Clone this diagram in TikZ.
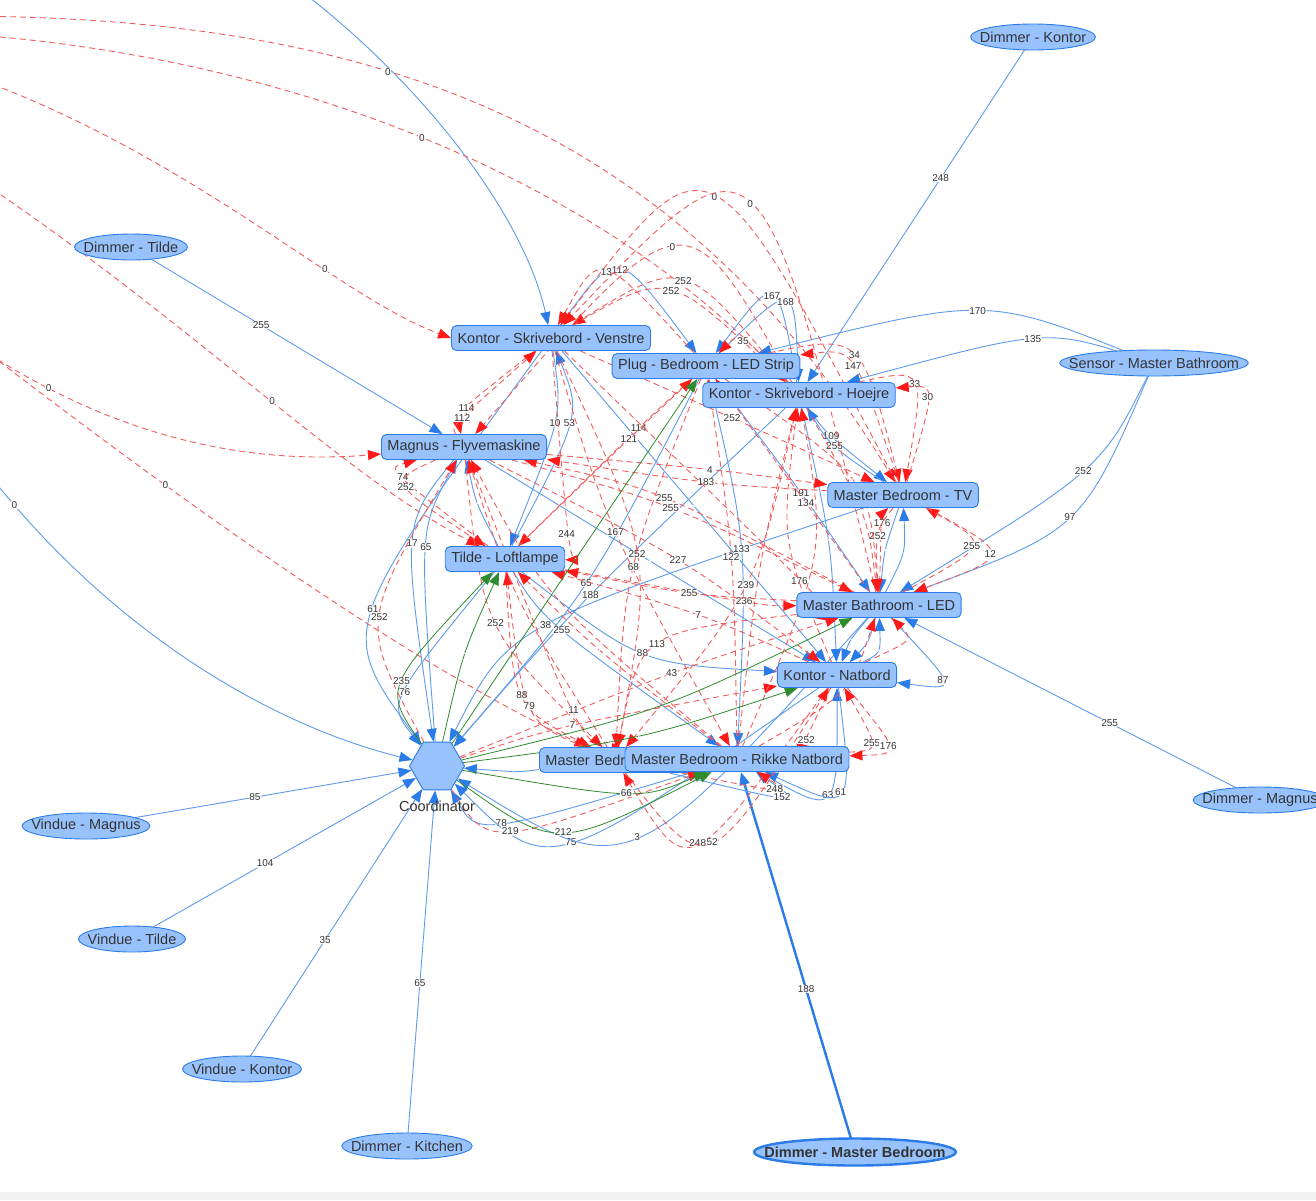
\documentclass[tikz,border=0pt]{standalone}
\usepackage{fontspec}
\setmainfont{Liberation Sans}
\usetikzlibrary{arrows.meta,calc,shapes.geometric}
\definecolor{ink}{HTML}{343434}
\definecolor{nodefill}{HTML}{97C2FC}
\definecolor{nodeline}{HTML}{2B7CE9}
\definecolor{linkblue}{HTML}{5E9BEA}
\definecolor{linkred}{HTML}{F25C5C}
\definecolor{tipred}{HTML}{FF1A1A}
\definecolor{linkgreen}{HTML}{2E8B2E}
\pgfdeclarelayer{links}
\pgfdeclarelayer{shells}
\pgfsetlayers{links,shells,main}
\tikzset{
  device/.style={draw=nodeline,fill=nodefill,rounded corners=5pt,line width=0.9pt,inner xsep=6pt,minimum height=25pt,text=ink,font=\fontsize{14.5}{16}\selectfont},
  sensor/.style={inner sep=0pt,text=ink,font=\fontsize{14.5}{16}\selectfont},
  shell/.style={draw=nodeline,fill=nodefill,line width=0.9pt},
  hub/.style={draw=nodeline,fill=nodefill,regular polygon,regular polygon sides=6,minimum size=55pt,inner sep=0pt,line width=0.9pt},
  lbl/.style={font=\fontsize{10}{11}\selectfont,text=ink,fill=white,fill opacity=0.85,text opacity=1,inner sep=0.6pt},
  blink/.style={-{Triangle[length=13pt,width=10pt,color=nodeline]},draw=linkblue,line width=0.9pt},
  rlink/.style={-{Triangle[length=13pt,width=10pt,color=tipred]},draw=linkred,line width=0.9pt,dash pattern=on 6pt off 4pt},
  glink/.style={-{Triangle[length=13pt,width=10pt,color=linkgreen]},draw=linkgreen,line width=0.8pt}
}

\begin{document}
\begin{tikzpicture}[x=1pt,y=-1pt]
  \useasboundingbox (0,0) rectangle (1316,1200);
  \clip (0,0) rectangle (1316,1200);

  % devices in the mesh
  \node[device,anchor=west,text width=140pt,align=left] (mb) at (539,760) {Master Bedroom};
  \node[device] (kv) at (551,338) {Kontor - Skrivebord - Venstre};
  \node[device] (pl) at (706,366) {Plug - Bedroom - LED Strip};
  \node[device] (kh) at (799,395) {Kontor - Skrivebord - Hoejre};
  \node[device] (mf) at (464,447) {Magnus - Flyvemaskine};
  \node[device] (tv) at (903,495) {Master Bedroom - TV};
  \node[device] (tl) at (505,559) {Tilde - Loftlampe};
  \node[device] (ml) at (879,605) {Master Bathroom - LED};
  \node[device] (kn) at (837,675) {Kontor - Natbord};
  \node[device] (rn) at (737,759) {Master Bedroom - Rikke Natbord};
  \node[hub,label={[text=ink,font=\fontsize{14.5}{16}\selectfont,inner sep=1pt,label distance=10pt]below:Coordinator}] (co) at (437,766) {};

  % end devices
  \node[sensor] (dk) at (1033,37) {Dimmer - Kontor};
  \node[sensor] (dt) at (131,247) {Dimmer - Tilde};
  \node[sensor] (sm) at (1154,363) {Sensor - Master Bathroom};
  \node[sensor] (dm) at (1260,800) {Dimmer - Magnus};
  \node[sensor] (vm) at (86,826) {Vindue - Magnus};
  \node[sensor] (vt) at (132,939) {Vindue - Tilde};
  \node[sensor] (vk) at (242,1069) {Vindue - Kontor};
  \node[sensor] (dki) at (407,1146) {Dimmer - Kitchen};
  \node[sensor,font=\fontsize{14.5}{16}\selectfont\bfseries] (dmb) at (855,1152) {Dimmer - Master Bedroom};

  \coordinate (topin) at (300,-10);
  \coordinate (leftin) at (-70,390);
  \coordinate (farA) at (-200,20);
  \coordinate (farB) at (-200,30);
  \coordinate (farC) at (-150,40);
  \coordinate (farD) at (-100,130);
  \coordinate (farE) at (-60,320);
  \coordinate (farF) at (-80,300);

  \begin{pgfonlayer}{shells}
    \foreach \dev in {dk,dt,sm,dm,vm,vt,vk,dki}
      \path[shell] let \p1=($(\dev.east)-(\dev.west)$) in (\dev.center) ellipse [x radius=0.5*\x1+9pt, y radius=13pt];
    \path[shell,line width=2.4pt] let \p1=($(dmb.east)-(dmb.west)$) in (dmb.center) ellipse [x radius=0.5*\x1+10pt, y radius=13.5pt];
  \end{pgfonlayer}

  \begin{pgfonlayer}{links}
    \fill[white] (0,0) rectangle (1316,1200);
    \fill[black!5] (0,1192) rectangle (1316,1200);

    % routes from the end devices
    \draw[blink] (dk) -- (kh) node[lbl,pos=0.4]{248};
    \draw[blink] (dt) -- (mf) node[lbl,pos=0.4]{255};
    \draw[blink] (dm) -- (ml) node[lbl,pos=0.4]{255};
    \draw[blink] (vm) -- (co) node[lbl,pos=0.45]{85};
    \draw[blink] (vt) -- (co) node[lbl,pos=0.45]{104};
    \draw[blink] (vk) -- (co) node[lbl,pos=0.45]{35};
    \draw[blink] (dki) -- (co) node[lbl,pos=0.45]{65};
    \draw[blink,draw=nodeline,line width=2.4pt] (dmb) -- (rn) node[lbl,pos=0.42]{188};
    \draw[blink] (topin) .. controls (430,90) and (525,220) .. (kv);
    \draw[blink] (leftin) .. controls (60,600) and (250,720) .. (co) node[lbl,pos=0.2]{0};

    % neighbours far off to the left
    \draw[rlink] (farA) .. controls (300,-5) and (650,80) .. (tv) node[lbl,pos=0.45]{0};
    \draw[rlink] (farB) .. controls (250,20) and (600,180) .. (kh) node[lbl,pos=0.53]{0};
    \draw[rlink] (farC) .. controls (150,110) and (320,290) .. (kv.west) node[lbl,pos=0.71]{0};
    \draw[rlink] (farD) .. controls (150,280) and (330,470) .. (tl) node[lbl,pos=0.58]{0};
    \draw[rlink] (farE) .. controls (100,440) and (250,465) .. (mf) node[lbl,pos=0.23]{0};
    \draw[rlink] (farF) .. controls (150,480) and (400,660) .. (mb) node[lbl,pos=0.35]{0};

    % mesh links: from/to/value/label point
    \foreach \s/\t/\l/\mx/\my in {
      sm/pl/170/973/313, sm/kh/135/1029/341, sm/ml/252/1081/472, sm/ml/97/1066/518,
      kv/pl/112/620/273, kh/pl/167/771/299, pl/kh/168/784/305,
      kh/tv/109/832/436, tv/kh/255/836/446, kv/tl/10/554/423, tl/kv/53/568/423,
      pl/ml/191/801/493, co/mf/65/427/549, mf/co/17/414/545, kv/co/61/376/610,
      tl/co/76/408/693, pl/co/65/585/584, kh/co/188/590/596, tv/co/38/549/627,
      pl/rn/133/741/549, tl/rn/255/563/630, tl/kn/88/648/652, ml/kn/87/934/678,
      mb/rn/152/773/794, rn/kn/63/825/792, kn/rn/61/837/789, rn/co/78/505/818,
      kn/co/75/571/838, ml/co/3/636/834, mb/co/{}/520/770, kv/kn/{}/694/506,
      mf/kn/{}/650/561, tv/ml/{}/886/550, ml/tv/{}/902/552, kh/kn/{}/828/540,
      ml/kn/{}/852/640, ml/kn/{}/866/642, kn/ml/{}/875/650, tl/mf/{}/478/503}
      \draw[blink] (\s) .. controls ($1.3333*(\mx,\my)-0.1667*(\s)-0.1667*(\t)$) .. (\t) node[lbl,pos=0.5]{\l};

    \foreach \s/\t/\l/\mx/\my in {
      kv/mf/114/469/408, mf/kv/112/465/418, pl/kv/13/607/275, kh/kv/252/682/284,
      kv/kh/252/670/294, tv/kv/0/714/200, ml/kv/0/749/207, kh/mf/0/672/250,
      kh/pl/35/743/344, pl/tv/34/847/358, tv/pl/147/842/369, kh/tv/33/907/387,
      tv/kh/30/915/400, kv/tv/252/732/418, pl/tl/114/639/428, tl/pl/121/629/439,
      tl/mf/74/411/477, mf/tl/252/412/487, mf/tv/4/709/470, tv/mf/183/705/481,
      ml/mf/255/660/498, mf/ml/255/668/508, ml/pl/134/806/503, kv/tl/244/559/532,
      kv/rn/167/616/532, kv/mb/252/636/554, pl/mb/68/634/567, mf/kn/227/677/560,
      rn/pl/122/731/557, ml/tv/176/884/523, tv/ml/252/879/536, ml/tv/255/966/546,
      tv/ml/12/983/554, kv/ml/176/806/578, kh/mb/239/745/585, tl/ml/236/747/600,
      ml/tl/255/692/592, kn/tl/7/696/615, co/mf/252/382/619, mf/mb/252/497/623,
      ml/mb/113/667/645, co/ml/43/674/673, tl/mb/88/525/695, mb/tl/79/533/706,
      mf/rn/11/587/710, co/kn/7/577/725, kn/rn/252/798/740, rn/kn/255/857/742,
      kn/rn/176/873/745, mb/rn/248/764/786, co/rn/219/513/827, kn/mb/248/698/840,
      mb/kn/52/712/839, kn/kh/{}/790/540, rn/kh/{}/760/570, rn/kh/{}/812/560,
      rn/ml/{}/840/690, rn/tl/{}/600/650, kh/ml/{}/860/510, pl/ml/{}/850/480,
      kn/ml/{}/900/640, rn/mf/{}/560/600, mb/mf/{}/520/600}
      \draw[rlink] (\s) .. controls ($1.3333*(\mx,\my)-0.1667*(\s)-0.1667*(\t)$) .. (\t) node[lbl,pos=0.5]{\l};

    \foreach \s/\t/\l/\mx/\my in {
      co/tl/235/405/682, co/tl/{}/465/655, co/pl/{}/575/560, co/kn/{}/640/735,
      co/ml/{}/660/705, co/rn/212/564/829, co/rn/66/627/791}
      \draw[glink] (\s) .. controls ($1.3333*(\mx,\my)-0.1667*(\s)-0.1667*(\t)$) .. (\t) node[lbl,pos=0.5]{\l};
  \end{pgfonlayer}
\end{tikzpicture}
\end{document}
